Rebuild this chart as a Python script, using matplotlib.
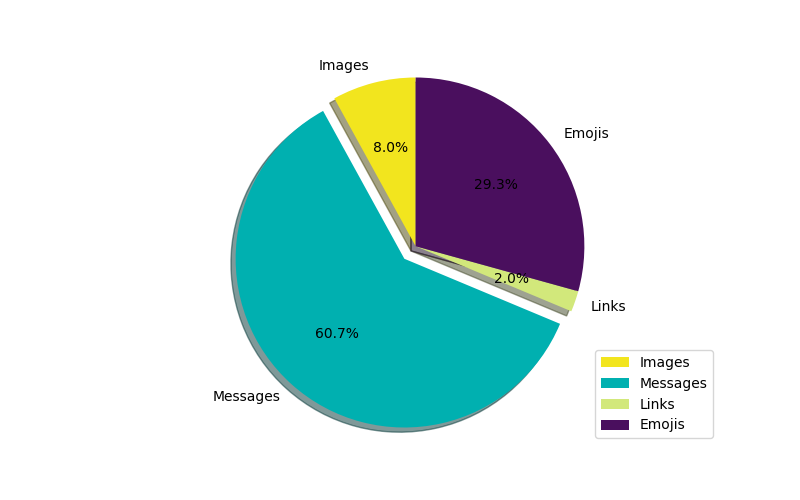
import matplotlib
matplotlib.use("Agg")
import matplotlib.pyplot as plt

labels = ["Images", "Messages", "Links", "Emojis"]
values = [8.0, 60.7, 2.0, 29.3]
colors = ["#f2e51e", "#00b0b0", "#d2e87b", "#4a0f5e"]
explode = [0, 0.1, 0, 0]

fig, ax = plt.subplots(figsize=(8, 5), dpi=100)
ax.pie(values, labels=labels, colors=colors, explode=explode, autopct="%1.1f%%",
       shadow=True, startangle=90)
ax.axis("equal")
ax.legend(loc="lower right")
fig.savefig("out.png", dpi=100)
